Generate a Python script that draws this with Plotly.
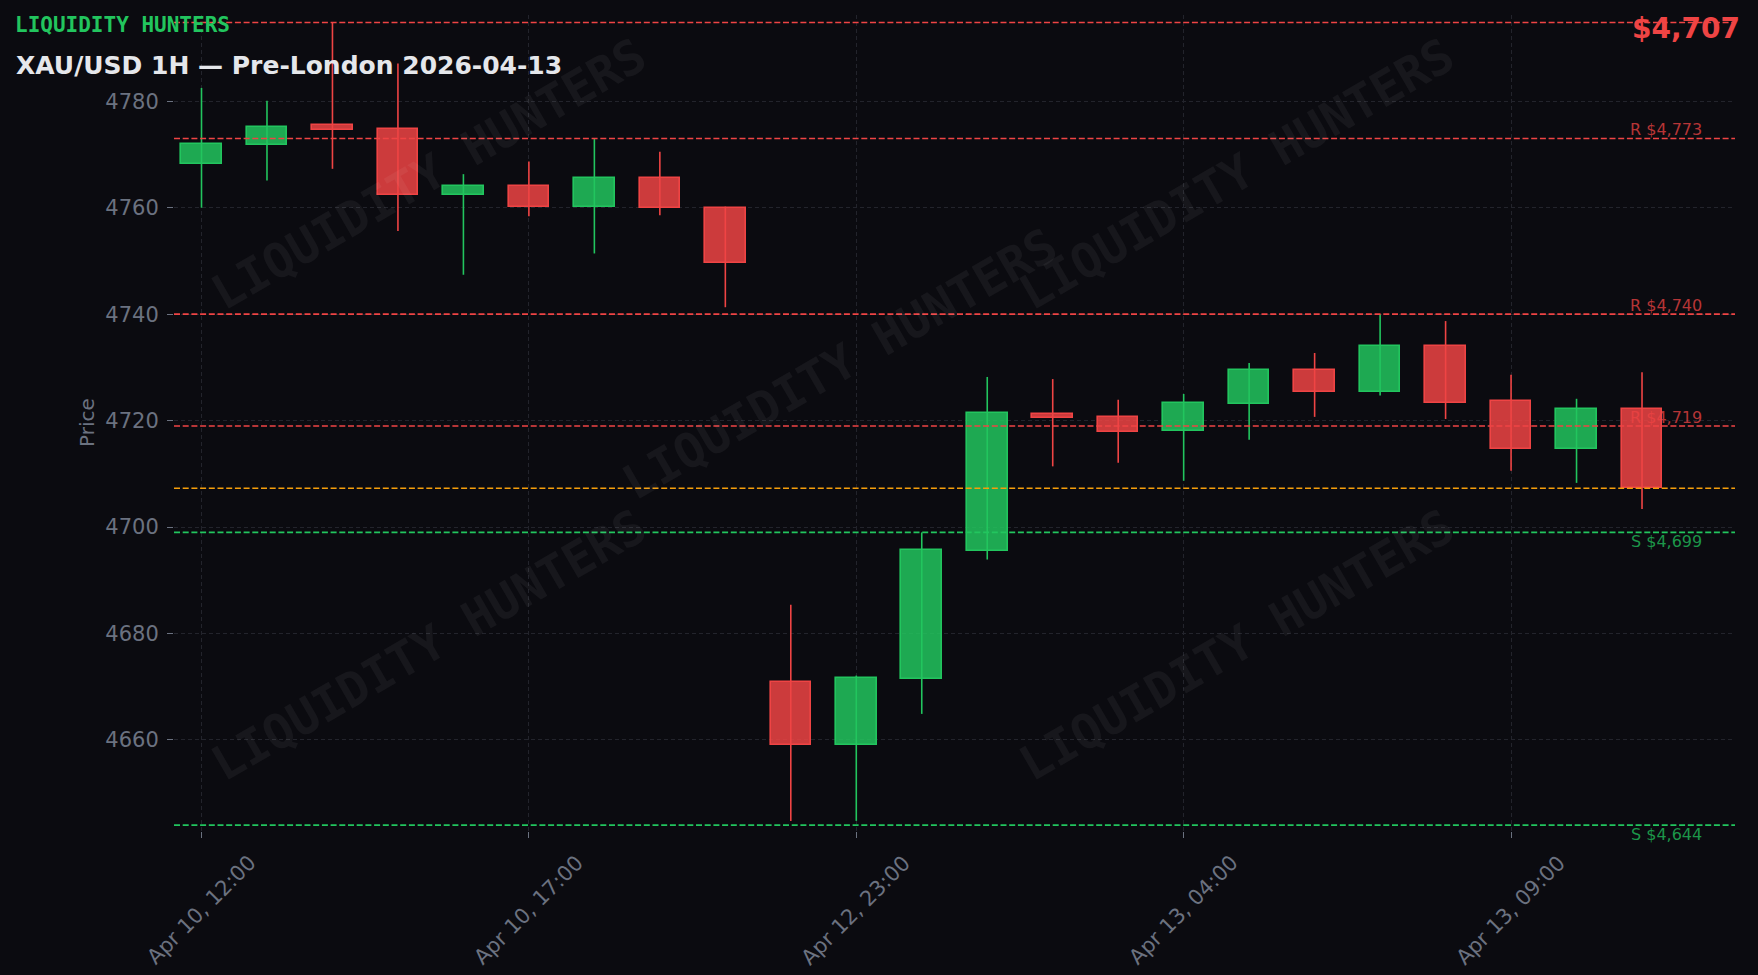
import plotly.graph_objects as go

# XAU/USD 1H candles, Apr 10 12:00 -> Apr 13 11:00 (weekend skipped)
opens = [4768.3, 4771.8, 4775.6, 4774.8, 4762.3, 4764.0, 4760.2, 4765.5, 4760.0,
         4670.8, 4659.1, 4671.5, 4695.5, 4721.2, 4720.6, 4718.0, 4723.1, 4729.5,
         4725.4, 4734.0, 4723.7, 4714.7, 4722.2]
highs = [4782.5, 4780.1, 4794.7, 4787.1, 4766.3, 4768.7, 4773.0, 4770.5, 4760.2,
         4685.4, 4672.1, 4699.0, 4728.2, 4727.8, 4723.9, 4725.0, 4730.8, 4732.7,
         4740.0, 4738.7, 4728.6, 4724.1, 4729.1]
lows = [4760.0, 4765.1, 4767.3, 4755.6, 4747.4, 4758.4, 4751.4, 4758.6, 4741.3,
        4644.8, 4644.8, 4664.9, 4693.9, 4711.4, 4712.1, 4708.7, 4716.4, 4720.7,
        4724.7, 4720.3, 4710.6, 4708.3, 4703.4]
closes = [4772.0, 4775.2, 4774.6, 4762.3, 4764.0, 4760.2, 4765.5, 4759.9, 4749.7,
          4659.1, 4671.7, 4695.7, 4721.4, 4720.4, 4717.9, 4723.3, 4729.5, 4725.4,
          4734.0, 4723.4, 4714.7, 4722.2, 4707.3]

tick_idx = [0, 5, 10, 15, 20]
tick_labels = ["Apr 10, 12:00", "Apr 10, 17:00", "Apr 12, 23:00",
               "Apr 13, 04:00", "Apr 13, 09:00"]

session_high = 4794.8
resistance = [4773, 4740, 4719]
support = [4699, 4644]
last_price = 4707.3

BG = "#0b0b10"
GREEN = "#22c55e"
RED = "#ef4444"
ORANGE = "#f59e0b"
GRAY = "#6b7280"

# plot area in pixels (for placing figure-level text)
PL, PR, PT, PB = 174, 1735, 15, 831
def px_x(px):
    return (px - PL) / (PR - PL)
def px_y(py):
    return (PB - py) / (PB - PT)

xs = list(range(len(opens)))
up = [i for i in xs if closes[i] >= opens[i]]
dn = [i for i in xs if closes[i] < opens[i]]

fig = go.Figure()

# wicks first so bodies sit on top
for idx, col in ((up, GREEN), (dn, RED)):
    wx, wy = [], []
    for i in idx:
        wx += [i, i, None]
        wy += [lows[i], highs[i], None]
    fig.add_trace(go.Scatter(x=wx, y=wy, mode="lines",
                             line=dict(color=col, width=1.6),
                             hoverinfo="skip", showlegend=False))

for idx, col, fill in ((up, GREEN, "rgba(34,197,94,0.85)"),
                       (dn, RED, "rgba(239,68,68,0.85)")):
    fig.add_trace(go.Bar(
        x=idx,
        y=[abs(closes[i] - opens[i]) for i in idx],
        base=[min(opens[i], closes[i]) for i in idx],
        width=0.62,
        marker=dict(color=fill, line=dict(color=col, width=1.6)),
        showlegend=False))

# level lines
dash = "6px,2.7px"
fig.add_hline(y=session_high, line=dict(color=RED, width=1.6, dash=dash), layer="above")
for lv in resistance:
    fig.add_hline(y=lv, line=dict(color=RED, width=1.6, dash=dash), layer="above")
    fig.add_annotation(x=0.98, xref="paper", y=lv, yref="y", text=f"R ${lv:,}",
                       xanchor="right", yanchor="bottom", showarrow=False, yshift=-3,
                       font=dict(family="DejaVu Sans", size=16, color="rgba(239,68,68,0.75)"))
for lv in support:
    fig.add_hline(y=lv, line=dict(color=GREEN, width=1.6, dash=dash), layer="above")
    fig.add_annotation(x=0.98, xref="paper", y=lv, yref="y", text=f"S ${lv:,}",
                       xanchor="right", yanchor="top", showarrow=False, yshift=2,
                       font=dict(family="DejaVu Sans", size=16, color="rgba(34,197,94,0.75)"))
fig.add_hline(y=last_price, line=dict(color=ORANGE, width=1.6, dash=dash), layer="above")

# x tick labels, centred under the tick like the original
for i, lab in zip(tick_idx, tick_labels):
    fig.add_annotation(x=i, xref="x", y=px_y(848), yref="paper", text=lab,
                       textangle=-45, showarrow=False, xanchor="center", yanchor="top",
                       font=dict(family="DejaVu Sans", size=21, color=GRAY))

# watermarks
for cx, cy in [(428, 174), (839, 364), (1236, 174), (428, 645), (1236, 645)]:
    fig.add_annotation(x=px_x(cx), y=px_y(cy), xref="paper", yref="paper",
                       text="LIQUIDITY HUNTERS", textangle=-30, showarrow=False,
                       xanchor="center", yanchor="middle",
                       font=dict(family="DejaVu Sans Mono", size=48,
                                 color="rgba(255,255,255,0.05)", weight="bold"))

# header texts
fig.add_annotation(x=px_x(13), y=px_y(25), xref="paper", yref="paper",
                   text="<b>LIQUIDITY HUNTERS</b>", showarrow=False,
                   xanchor="left", yanchor="middle",
                   font=dict(family="DejaVu Sans Mono", size=21, color=GREEN))
fig.add_annotation(x=px_x(14), y=px_y(65), xref="paper", yref="paper",
                   text="<b>XAU/USD 1H — Pre-London 2026-04-13</b>", showarrow=False,
                   xanchor="left", yanchor="middle",
                   font=dict(family="DejaVu Sans", size=25, color="#e5e7eb"))
fig.add_annotation(x=px_x(1742), y=px_y(28), xref="paper", yref="paper",
                   text=f"<b>${last_price:,.0f}</b>", showarrow=False,
                   xanchor="right", yanchor="middle",
                   font=dict(family="DejaVu Sans", size=28, color=RED))
fig.add_annotation(x=px_x(87), y=0.5, xref="paper", yref="paper",
                   text="Price", textangle=-90, showarrow=False,
                   xanchor="center", yanchor="middle",
                   font=dict(family="DejaVu Sans", size=20, color=GRAY))

fig.update_layout(
    width=1758, height=975,
    margin=dict(l=PL, r=1758 - PR, t=PT, b=975 - PB),
    paper_bgcolor=BG, plot_bgcolor=BG,
    bargap=0, showlegend=False,
    font=dict(family="DejaVu Sans", color=GRAY),
    xaxis=dict(range=[-0.42, 23.42], tickmode="array", tickvals=tick_idx,
               showticklabels=False, ticks="outside", ticklen=6, tickcolor=GRAY,
               showgrid=True, gridcolor="#23242c", griddash="4px,3px", gridwidth=1,
               zeroline=False, showline=False),
    yaxis=dict(range=[4642.9, 4796.2], tickvals=[4660, 4680, 4700, 4720, 4740, 4760, 4780],
               ticks="outside", ticklen=6, tickcolor=GRAY, ticklabelstandoff=4,
               tickfont=dict(size=21, color=GRAY),
               showgrid=True, gridcolor="#23242c", griddash="4px,3px", gridwidth=1,
               zeroline=False, showline=False),
)

fig.write_html("out.html", config={"displayModeBar": False},
               post_script="document.body.style.margin='0';")
